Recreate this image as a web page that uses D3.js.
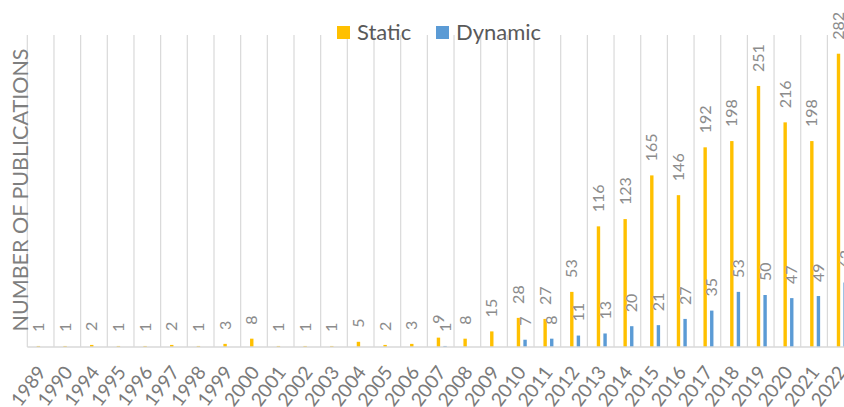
<!DOCTYPE html>
<html>
<head>
<meta charset="utf-8">
<script src="https://cdn.jsdelivr.net/npm/d3@7"></script>
<style>
  body { margin: 0; background: #fff; }
  svg { display: block; font-family: Lato, "Liberation Sans", sans-serif; }
</style>
</head>
<body>
<svg id="chart" width="844" height="407"></svg>
<script>
var years = ["1989","1990","1994","1995","1996","1997","1998","1999","2000","2001","2002","2003","2004","2005","2006","2007","2008","2009","2010","2011","2012","2013","2014","2015","2016","2017","2018","2019","2020","2021","2022"];
var staticPubs = [1,1,2,1,1,2,1,3,8,1,1,1,5,2,3,9,8,15,28,27,53,116,123,165,146,192,198,251,216,198,282];
var dynamicPubs = [0,0,0,0,0,0,0,0,0,0,0,0,0,0,0,1,0,0,7,8,11,13,20,21,27,35,53,50,47,49,62];
var seriesNames = ["Static","Dynamic"];
var seriesColors = ["#FFC000","#5B9BD5"];
var yMax = 300;

var svg = d3.select("#chart");
var plotLeft = 27.3, step = 26.67, plotBottom = 347, plotTop = 35;

var x = d3.scaleBand()
  .domain(years)
  .range([plotLeft, plotLeft + step * years.length]);

var x1 = d3.scaleBand()
  .domain(seriesNames)
  .range([9.4, 19.4])
  .paddingInner(0.485);

var y = d3.scaleLinear()
  .domain([0, yMax])
  .range([plotBottom, plotTop]);

var rows = years.map(function (yr, i) {
  return { year: yr, values: [staticPubs[i], dynamicPubs[i]] };
});

// vertical gridlines at category edges
var edges = years.map(function (yr) { return x(yr); });
edges.push(x(years[years.length - 1]) + x.bandwidth());
svg.append("g").selectAll("line")
  .data(edges)
  .enter().append("line")
  .attr("x1", function (d) { return d; })
  .attr("x2", function (d) { return d; })
  .attr("y1", plotTop)
  .attr("y2", plotBottom)
  .style("stroke", "#d9d9d9")
  .style("stroke-width", 1.2);

var groups = svg.append("g").selectAll("g")
  .data(rows)
  .enter().append("g")
  .attr("transform", function (d) { return "translate(" + x(d.year) + ",0)"; });

groups.selectAll("rect")
  .data(function (d) {
    return d.values.map(function (v, k) { return { key: seriesNames[k], k: k, v: v }; });
  })
  .enter().append("rect")
  .attr("x", function (d) { return x1(d.key); })
  .attr("width", x1.bandwidth())
  .attr("y", function (d) { return y(d.v); })
  .attr("height", function (d) { return plotBottom - y(d.v); })
  .style("fill", function (d) { return seriesColors[d.k]; });

// data labels
groups.selectAll("text")
  .data(function (d) {
    return d.values.map(function (v, k) { return { key: seriesNames[k], v: v }; })
      .filter(function (d) { return d.v > 0; });
  })
  .enter().append("text")
  .attr("transform", function (d) {
    return "translate(" + (x1(d.key) + x1.bandwidth() / 2) + "," + (y(d.v) - 14) + ") rotate(-90)";
  })
  .attr("dy", "0.35em")
  .style("font-size", "16px")
  .style("fill", "#8c8c8c")
  .text(function (d) { return d.v; });

// baseline
svg.append("line")
  .attr("x1", plotLeft)
  .attr("x2", 844)
  .attr("y1", plotBottom)
  .attr("y2", plotBottom)
  .style("stroke", "#d9d9d9")
  .style("stroke-width", 1.5);

// x axis labels
var xAxis = svg.append("g")
  .attr("transform", "translate(0," + plotBottom + ")")
  .call(d3.axisBottom(x).tickSize(0).tickPadding(0));
xAxis.select(".domain").remove();
xAxis.selectAll("text")
  .attr("y", 0)
  .attr("dy", "0.35em")
  .attr("transform", "translate(1,21.5) rotate(-53)")
  .style("text-anchor", "end")
  .style("font-family", "Lato, sans-serif")
  .style("font-size", "19px")
  .style("fill", "#7a7a7a");

// y title
svg.append("text")
  .attr("transform", "translate(20,190) rotate(-90)")
  .attr("dy", "0.35em")
  .style("text-anchor", "middle")
  .style("font-size", "21.5px")
  .style("fill", "#7f7f7f")
  .text("NUMBER OF PUBLICATIONS");

// legend
var legendX = [337, 436];
var legend = svg.append("g").selectAll("g")
  .data(seriesNames)
  .enter().append("g")
  .attr("transform", function (d, i) { return "translate(" + legendX[i] + ",26)"; });
legend.append("rect")
  .attr("width", 13)
  .attr("height", 13)
  .style("fill", function (d, i) { return seriesColors[i]; });
legend.append("text")
  .attr("x", 20)
  .attr("y", 14)
  .style("font-size", "22px")
  .style("fill", "#595959")
  .text(function (d) { return d; });
</script>
</body>
</html>
